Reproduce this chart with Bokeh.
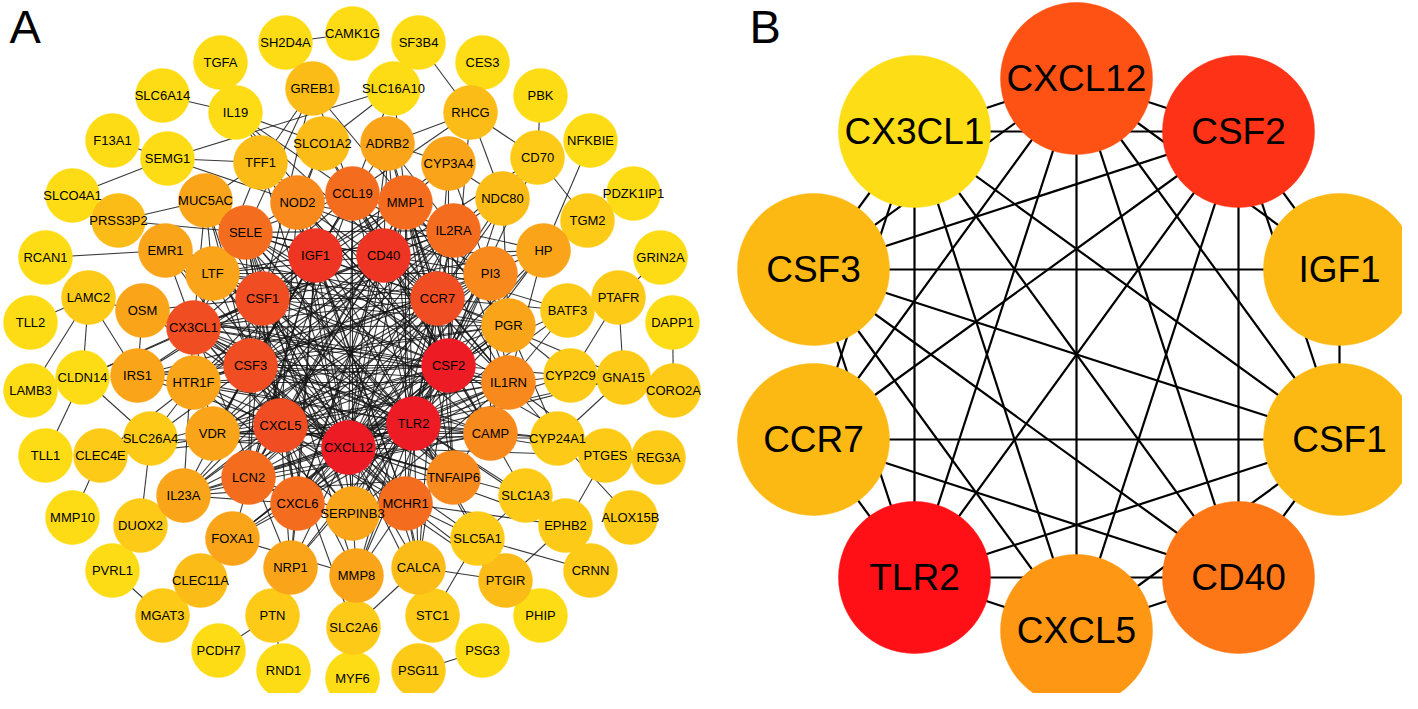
from bokeh.plotting import figure
from bokeh.models import ColumnDataSource, Range1d
from bokeh.core.properties import value
from bokeh.embed import file_html
from bokeh.resources import INLINE

# ---------------- Panel A data ----------------
a_names = ["TGFA","SH2D4A","CAMK1G","SF3B4","CES3","PBK","NFKBIE","PDZK1IP1","GRIN2A","DAPP1",
           "CORO2A","REG3A","ALOX15B","CRNN","PHIP","PSG3","PSG11","MYF6","RND1","PCDH7",
           "MGAT3","PVRL1","MMP10","TLL1","LAMB3","TLL2","RCAN1","SLCO4A1","F13A1","SLC6A14",
           "GREB1","SLC16A10","RHCG","CD70","TGM2","PTAFR","GNA15","PTGES","EPHB2","PTGIR",
           "STC1","SLC2A6","PTN","CLEC11A","DUOX2","CLEC4E","CLDN14","LAMC2","PRSS3P2","SEMG1","IL19",
           "SLCO1A2","ADRB2","CYP3A4","NDC80","HP","BATF3","CYP2C9","CYP24A1","SLC1A3","SLC5A1",
           "CALCA","MMP8","NRP1","FOXA1","IL23A","SLC26A4","IRS1","OSM","EMR1","MUC5AC","TFF1",
           "NOD2","CCL19","MMP1","IL2RA","PI3","PGR","IL1RN","CAMP","TNFAIP6","MCHR1",
           "SERPINB3","CXCL6","LCN2","VDR","HTR1F","CX3CL1","LTF","SELE",
           "IGF1","CD40","CCR7","CSF2","TLR2","CXCL12","CXCL5","CSF3","CSF1"]
a_x = [220,285,352,418,482,540,590,633,660,672,673,658,630,590,540,482,418,352,283,218,
       162,112,72,45,30,30,45,72,112,162,
       312,393,470,537,587,618,623,605,565,505,432,353,272,200,140,100,82,88,118,167,235,
       322,387,448,502,543,567,570,557,525,477,418,356,290,232,183,150,137,142,165,205,260,
       297,352,405,453,490,508,508,490,453,405,352,297,248,212,193,193,212,245,
       315,383,437,448,413,348,280,250,262]
a_y = [62,42,33,42,62,95,140,193,257,322,390,457,517,570,615,650,670,678,670,650,
       615,570,517,455,390,322,257,195,140,95,
       88,88,112,157,220,297,377,455,525,580,615,627,615,580,525,455,377,297,220,158,112,
       143,143,163,198,250,310,375,438,495,538,567,575,567,538,495,438,375,310,250,200,162,
       202,193,202,230,273,325,382,433,477,503,513,503,477,433,382,327,273,232,
       255,255,298,365,423,447,425,365,298]
a_level = [0,0,0,0,0,0,0,0,0,0,1,1,1,1,0,0,1,0,0,0,1,0,0,0,0,0,0,0,0,0,
           2,0,2,1,1,1,1,1,1,2,1,1,1,2,1,1,0,1,2,0,0,
           2,3,3,2,3,1,1,1,1,1,2,3,3,3,3,1,3,3,3,3,2,
           4,5,5,5,4,3,4,4,4,5,3,5,5,3,3,6,3,5,
           7,7,6,8,8,8,6,6,6]
a_palette = ["#FDDC16","#FDCB17","#FCBC17","#FAA41A","#F8891C","#F46D1E","#F04E22","#EE3524","#ED1C24"]

# adjacency of panel A: "node: neighbour neighbour ..."
a_links = [
    "SH2D4A: CAMK1G",
    "SLC6A14: IL19",
    "IL19: SLCO1A2 CCL19 CSF2 CCR7 NOD2",
    "F13A1: SEMG1",
    "SEMG1: NOD2 SLC16A10 SLCO4A1 TFF1",
    "PRSS3P2: MUC5AC SELE",
    "GREB1: TFF1 CSF1 PGR CCL19 SELE",
    "SF3B4: RHCG",
    "PBK: CD70",
    "RHCG: CD70 NDC80 CCL19 ADRB2 CSF2",
    "SLC16A10: SLCO1A2 CCL19 MMP1",
    "NFKBIE: HP",
    "CD70: TGM2 CCR7 CD40 IL2RA TLR2",
    "CYP3A4: NDC80 ADRB2 MMP1 CSF2 IGF1 PGR CCR7",
    "ADRB2: IL2RA IGF1 CSF2 CD40 CXCL12 TLR2 CCR7",
    "RCAN1: EMR1",
    "LAMC2: TLL2 LAMB3 CLDN14 CX3CL1 IRS1",
    "CLDN14: TLL1 SLC26A4 CX3CL1 CSF1",
    "OSM: IRS1 CSF2 CSF3 CX3CL1 IL1RN TLR2 CSF1 CXCL12",
    "EMR1: CX3CL1 CSF3 CSF1 CXCL12 CCR7",
    "SLC26A4: HTR1F CSF3 CXCL12 DUOX2",
    "GRIN2A: PTAFR",
    "DAPP1: CORO2A",
    "PTAFR: GNA15 CYP2C9 BATF3",
    "GNA15: CYP24A1 CCR7 CXCL12 TLR2",
    "CAMP: CYP24A1 TLR2 CXCL12 CSF3 CXCL5 LCN2 IL23A CSF2 CD40 CX3CL1 VDR",
    "MMP10: CLEC4E",
    "DUOX2: IL23A",
    "PVRL1: MGAT3",
    "CLEC11A: FOXA1",
    "PTN: PCDH7 RND1",
    "NRP1: CXCL6 CXCL12 CSF2 TLR2 CX3CL1 IGF1 CXCL5",
    "FOXA1: CXCL6 CXCL12 CSF2 TLR2 IGF1 MMP8",
    "PSG11: PSG3",
    "SLC5A1: SLC1A3 CRNN STC1 MCHR1 CXCL12 TLR2",
    "EPHB2: PTGIR PTGES TLR2 MCHR1 CXCL12",
    "ALOX15B: CYP24A1",
    "CALCA: PTGIR SLC2A6 CXCL12 TLR2 CSF2 CCR7 MCHR1 IGF1",
    "SLC1A3: CAMP CXCL12 TLR2",
    "PTGIR: MCHR1 CXCL5 TLR2",
    "STC1: CXCL12 MCHR1",
    "SLC2A6: MMP8 CXCL5",
    "CLEC4E: TLR2 CSF2 CXCL5 HTR1F",
    "NDC80: CSF2 CCR7 PGR IL2RA",
    "SLCO1A2: CCL19 CSF1 CD40 NOD2",
    "SELE: CXCL12 TLR2 CSF2 CCR7 IGF1 CD40 CSF1 CX3CL1 CSF3 CXCL5 CCL19 NOD2 IL1RN LTF IL2RA PI3 CAMP CXCL6 SERPINB3 MMP8",
    "CCL19: CXCL12 CCR7 TLR2 CSF2 CD40 CSF3 CX3CL1 MMP1 IL2RA NOD2 IL1RN PI3 CAMP LCN2 SERPINB3 VDR",
    "MMP1: CXCL12 TLR2 CSF2 CD40 IGF1 CCR7 CSF1 CXCL5 IL1RN PGR LCN2 CXCL6 SERPINB3 TNFAIP6 MCHR1 CAMP HTR1F",
    "NOD2: TLR2 CSF2 CCR7 CXCL5 CAMP CXCL12 IL2RA TFF1 PI3 MCHR1 SERPINB3",
    "IL2RA: CSF2 CSF3 CD40 CCR7 TLR2 CXCL12 IGF1 CX3CL1 IL1RN LCN2 CXCL6 VDR HTR1F",
    "PI3: CXCL12 TLR2 CSF2 CXCL5 CAMP SERPINB3 IL1RN CCR7 LCN2 CX3CL1 LTF HTR1F VDR CXCL6",
    "PGR: IGF1 CSF1 CSF2 CXCL12 FOXA1 CX3CL1 CSF3 TLR2 CYP24A1 CYP2C9 LTF VDR",
    "IL1RN: CSF2 CSF3 TLR2 CXCL12 CD40 CCR7 CXCL5 CX3CL1 BATF3 CYP2C9 PTGES HTR1F VDR LCN2 CXCL6",
    "TNFAIP6: TLR2 CXCL12 CSF2 CCR7 CXCL5 IL23A CX3CL1 IL1RN CSF1 LTF SELE",
    "MCHR1: CXCL12 TLR2 CSF1 CSF3 CCR7 IGF1 CX3CL1 MMP8 LTF HTR1F",
    "SERPINB3: CXCL12 TLR2 CSF2 CXCL5 CCR7 CX3CL1 IL1RN LCN2 HTR1F CSF1",
    "CXCL6: CXCL12 TLR2 CSF2 CD40 CCR7 CXCL5 IL1RN IL23A LCN2 CSF1 IGF1",
    "LCN2: CXCL12 TLR2 CSF2 CSF3 CXCL5 CCR7 IL23A IGF1 CD40 CSF1",
    "VDR: CXCL12 TLR2 CSF2 CSF3 IGF1 IL1RN CX3CL1 CCR7 HTR1F CYP24A1 CD40",
    "HTR1F: CXCL12 CSF2 CCR7 TLR2 CSF3 IGF1 CD40",
    "IRS1: IGF1 CSF1 CSF2 TLR2 CXCL12 CSF3 CCR7 PGR",
    "LTF: TLR2 CSF2 CXCL12 CSF1 CD40 CCR7 CX3CL1 IL2RA CXCL5",
    "MUC5AC: TFF1 CX3CL1 CSF3 CXCL5 TLR2 CXCL12 LTF",
    "TFF1: CXCL12 CSF2 TLR2 CX3CL1",
    "HP: TLR2 CSF2 IL1RN CXCL12 CD40 IL2RA CSF1 CSF3",
    "IL23A: TLR2 CSF2 CSF3 CXCL5 CCR7 CD40 IL2RA CX3CL1",
    "MMP8: CXCL12 TLR2 CSF2 CXCL5 CCR7",
    "BATF3: CCR7 CSF2 TLR2 CD40",
    "CYP2C9: CSF2 TLR2",
    "CYP24A1: CCR7 TLR2",
    "PTGES: TLR2 CSF2 CXCL12",
    # hub genes (same links as panel B)
    "CXCL12: CSF2 IGF1 CSF1 CD40 CXCL5 TLR2 CCR7 CSF3 CX3CL1",
    "CSF2: IGF1 CSF1 CD40 CXCL5 TLR2 CCR7 CSF3 CX3CL1",
    "IGF1: CSF1 CSF3",
    "CSF1: CD40 CXCL5 TLR2 CCR7 CSF3 CX3CL1",
    "CD40: CXCL5 TLR2 CCR7 CSF3 CX3CL1",
    "CXCL5: TLR2 CSF3 CX3CL1",
    "TLR2: CCR7 CSF3 CX3CL1",
    "CCR7: CX3CL1",
    "CSF3: CX3CL1",
]

# ---------------- Panel B data ----------------
b_names = ["CXCL12","CSF2","IGF1","CSF1","CD40","CXCL5","TLR2","CCR7","CSF3","CX3CL1"]
b_x = [1076,1238,1339,1339,1238,1076,914,813,813,914]
b_y = [78,131,269,439,577,630,577,439,269,131]
b_color = ["#FE5215","#FE3216","#FDB913","#FDB913","#FE7716","#FE9714","#FE1016","#FDB913","#FDB913","#FDDD15"]
b_links = [
    "CXCL12: CSF2 IGF1 CSF1 CD40 CXCL5 TLR2 CCR7 CSF3 CX3CL1",
    "CSF2: IGF1 CSF1 CD40 CXCL5 TLR2 CCR7 CSF3 CX3CL1",
    "IGF1: CSF1 CSF3",
    "CSF1: CD40 CXCL5 TLR2 CCR7 CSF3 CX3CL1",
    "CD40: CXCL5 TLR2 CCR7 CSF3 CX3CL1",
    "CXCL5: TLR2 CSF3 CX3CL1",
    "TLR2: CCR7 CSF3 CX3CL1",
    "CCR7: CX3CL1",
    "CSF3: CX3CL1",
]

panel_letters = ["A", "B"]
letter_x = [9, 749]
letter_y = [26, 26]


def edge_source(names, xs, ys, links):
    pos = {n: (x, y) for n, x, y in zip(names, xs, ys)}
    seen = set()
    d = dict(x0=[], y0=[], x1=[], y1=[])
    for line in links:
        src, rest = line.split(":")
        src = src.strip()
        for t in rest.split():
            key = tuple(sorted((src, t)))
            if key in seen or src == t:
                continue
            seen.add(key)
            d["x0"].append(pos[src][0]); d["y0"].append(pos[src][1])
            d["x1"].append(pos[t][0]); d["y1"].append(pos[t][1])
    return ColumnDataSource(d)


W, H = 1402, 693
p = figure(width=W, height=H, output_backend="svg", toolbar_location=None,
           x_range=Range1d(0, W), y_range=Range1d(H, 0),
           x_axis_location=None, y_axis_location=None, min_border=0,
           background_fill_color="white", border_fill_color="white")
p.outline_line_color = None
p.grid.grid_line_color = None

FONT = value("Liberation Sans")

# panel A
p.segment("x0", "y0", "x1", "y1", source=edge_source(a_names, a_x, a_y, a_links),
          line_color="#151515", line_width=1.1, line_alpha=0.85)
a_src = ColumnDataSource(dict(x=a_x, y=a_y, name=a_names,
                              color=[a_palette[l] for l in a_level]))
p.circle("x", "y", radius=27, source=a_src, fill_color="color", line_color="color", line_width=0.5)
p.text("x", "y", text="name", source=a_src, text_font=FONT, text_font_size="13px",
       text_align="center", text_baseline="middle", text_color="black")

# panel B
p.segment("x0", "y0", "x1", "y1", source=edge_source(b_names, b_x, b_y, b_links),
          line_color="black", line_width=2.2)
b_src = ColumnDataSource(dict(x=b_x, y=b_y, name=b_names, color=b_color))
p.circle("x", "y", radius=76, source=b_src, fill_color="color", line_color="color", line_width=0.5)
p.text("x", "y", text="name", source=b_src, text_font=FONT, text_font_size="37px",
       text_align="center", text_baseline="middle", text_color="black")

# panel letters
p.text(letter_x, letter_y, text=panel_letters, text_font=FONT, text_font_size="47px",
       text_align="left", text_baseline="middle", text_color="black")

open("out.html", "w").write(file_html(p, INLINE))
